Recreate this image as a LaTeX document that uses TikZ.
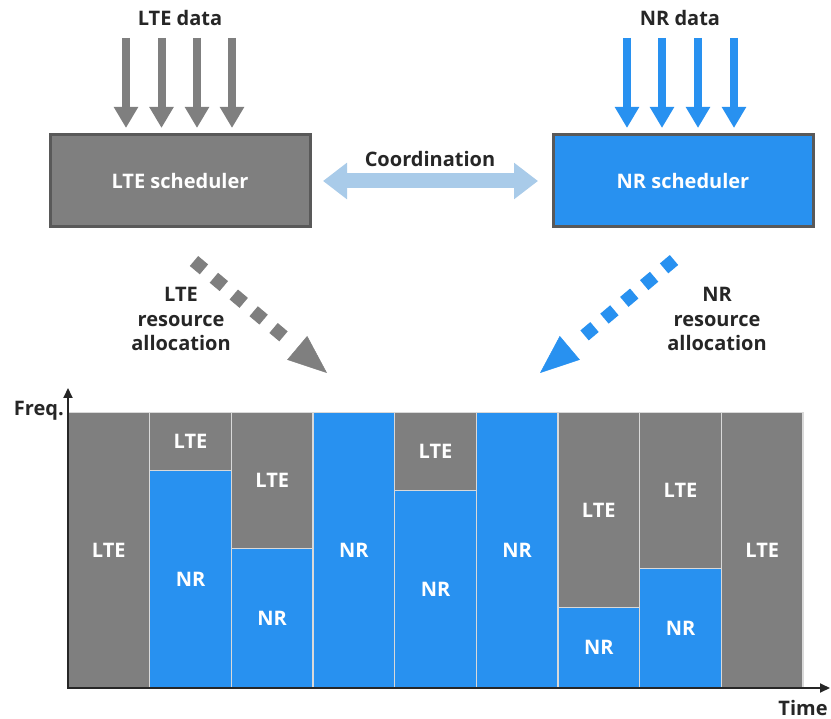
\documentclass[tikz,border=0pt]{standalone}
\usepackage{fontspec}
\setmainfont{Open Sans}
\usetikzlibrary{arrows.meta,calc}
\definecolor{ltegray}{RGB}{127,127,127}
\definecolor{nrblue}{RGB}{40,145,240}
\definecolor{coordblue}{RGB}{169,203,233}
\definecolor{bordergray}{RGB}{89,89,89}
\definecolor{txt}{RGB}{38,38,38}
\definecolor{sepc}{RGB}{217,217,217}
\tikzset{
  lbl/.style={text=txt, font=\bfseries\fontsize{20}{24.5}\selectfont, inner sep=0pt, align=center},
  sched/.style={minimum width=260pt, minimum height=92pt, draw=bordergray, line width=3pt, text=white, font=\bfseries\fontsize{20}{23}\selectfont},
  cell/.style={minimum width=81.67pt, inner sep=0pt, draw=sepc, line width=1.3pt, text=white, anchor=north, font=\bfseries\fontsize{20}{23}\selectfont},
  ltecell/.style={cell, fill=ltegray},
  nrcell/.style={cell, fill=nrblue},
  ltedata/.style={draw=ltegray, line width=8pt, -{Triangle[length=21pt,width=23pt]}},
  nrdata/.style={draw=nrblue, line width=8pt, -{Triangle[length=21pt,width=23pt]}},
  coordarrow/.style={draw=coordblue, line width=15pt, {Triangle[length=24pt,width=35pt]}-{Triangle[length=24pt,width=35pt]}},
  allocshaft/.style={line width=13pt, dash pattern=on 13pt off 13pt},
  alloctip/.style={line width=0.5pt, -{Triangle[length=39pt,width=31pt]}},
  axisarrow/.style={draw=black!85, line width=2pt, -{Triangle[length=10pt,width=9pt]}}
}
\begin{document}
\begin{tikzpicture}[x=1pt,y=-1pt]
\useasboundingbox (0,0) rectangle (831,719);

% schedulers
\node[sched, fill=ltegray] (lsch) at (180,181) {LTE scheduler};
\node[sched, fill=nrblue] (nsch) at (683,181) {NR scheduler};

% data labels
\node[lbl] (ldata) at (180,18) {LTE data};
\node[lbl] (ndata) at (680,18) {NR data};

% data arrows
\foreach \x [count=\i] in {126,161.5,197,232}{
  \coordinate (ls\i) at (\x,38);
  \coordinate (le\i) at (\x,128);
  \draw[ltedata] (ls\i) -- (le\i);
}
\foreach \x [count=\i] in {627,662,698,734}{
  \coordinate (ns\i) at (\x,38);
  \coordinate (ne\i) at (\x,128);
  \draw[nrdata] (ns\i) -- (ne\i);
}

% coordination
\draw[coordarrow] ([xshift=11.5pt]lsch.east) -- ([xshift=-13.5pt]nsch.west);
\node[lbl] (coord) at (430,159) {Coordination};

% allocation arrows
\coordinate (la1) at (194,261);
\coordinate (la2) at (327,373);
\draw[allocshaft, draw=ltegray] (la1) -- ($(la1)!0.72!(la2)$);
\draw[alloctip, draw=ltegray] ($(la1)!0.97!(la2)$) -- (la2);
\coordinate (na1) at (674,260);
\coordinate (na2) at (540,373);
\draw[allocshaft, draw=nrblue] (na1) -- ($(na1)!0.72!(na2)$);
\draw[alloctip, draw=nrblue] ($(na1)!0.97!(na2)$) -- (na2);
\node[lbl] (lalloc) at (181,319) {LTE\\resource\\allocation};
\node[lbl] (nalloc) at (717,319) {NR\\resource\\allocation};

% resource grid
\node[ltecell, minimum height=275pt] (c1) at (108.8,412) {LTE};
\node[ltecell, minimum height=58pt]  (c2a) at (190.5,412) {LTE};
\node[nrcell,  minimum height=217pt] (c2b) at (190.5,470) {NR};
\node[ltecell, minimum height=136pt] (c3a) at (272.2,412) {LTE};
\node[nrcell,  minimum height=139pt] (c3b) at (272.2,548) {NR};
\node[nrcell,  minimum height=275pt] (c4) at (353.8,412) {NR};
\node[ltecell, minimum height=78pt]  (c5a) at (435.5,412) {LTE};
\node[nrcell,  minimum height=197pt] (c5b) at (435.5,490) {NR};
\node[nrcell,  minimum height=275pt] (c6) at (517.2,412) {NR};
\node[ltecell, minimum height=195pt] (c7a) at (598.8,412) {LTE};
\node[nrcell,  minimum height=80pt]  (c7b) at (598.8,607) {NR};
\node[ltecell, minimum height=156pt] (c8a) at (680.5,412) {LTE};
\node[nrcell,  minimum height=119pt] (c8b) at (680.5,568) {NR};
\node[ltecell, minimum height=275pt] (c9) at (762.2,412) {LTE};

% axes
\coordinate (org) at (68,688);
\coordinate (ytop) at (68,388);
\coordinate (xend) at (830,688);
\draw[axisarrow] (org) -- (ytop);
\draw[axisarrow] ([xshift=-1pt]org) -- (xend);
\node[lbl, anchor=east] (freq) at (64,411) {Freq.};
\node[lbl] (time) at (803,708) {Time};
\end{tikzpicture}
\end{document}
